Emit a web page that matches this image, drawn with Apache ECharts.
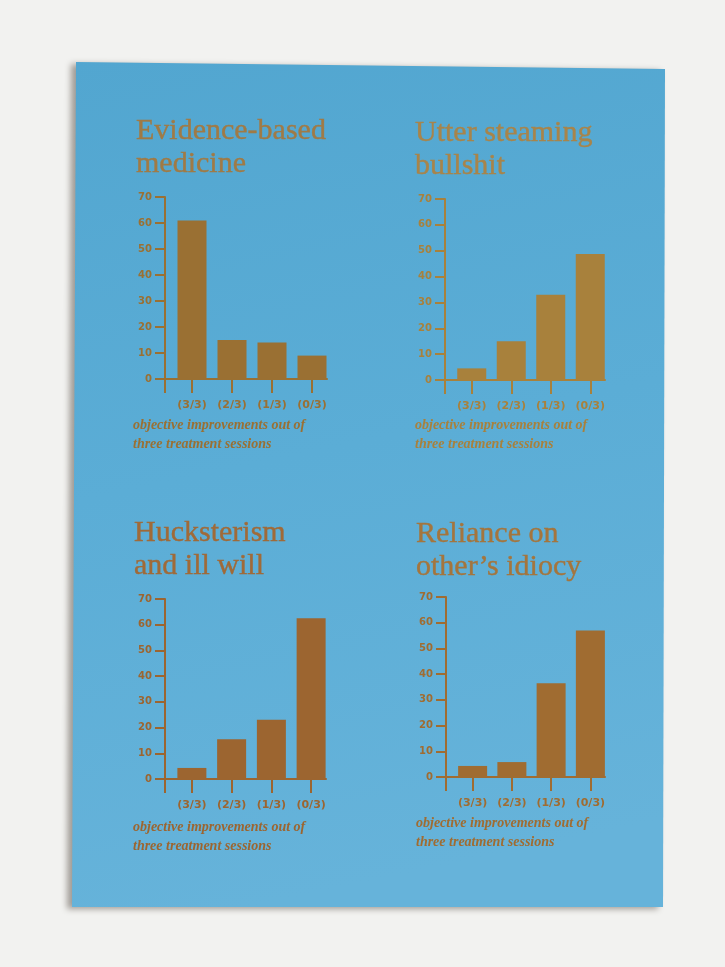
<!DOCTYPE html>
<html>
<head>
<meta charset="utf-8">
<style>
  html, body { margin: 0; padding: 0; background: #f2f2f0; }
  #chart { width: 725px; height: 967px; }
</style>
<script src="https://cdn.jsdelivr.net/npm/echarts@6/dist/echarts.min.js"></script>
</head>
<body>
<div id="chart"></div>
<script>
// ---- data ----
const categories = ['(3/3)', '(2/3)', '(1/3)', '(0/3)'];
const evidenceValues = [61, 15, 14, 9];
const bullshitValues = [4.5, 15, 33, 48.7];
const huckValues = [4.3, 15.5, 23, 62.5];
const relianceValues = [4.3, 5.8, 36.5, 57];
const yMin = 0;
const yMax = 70;
const yStep = 10;
const panelTitles = [
  'Evidence-based\nmedicine',
  'Utter steaming\nbullshit',
  'Hucksterism\nand ill will',
  'Reliance on\nother\u2019s idiocy'
];
const axisCaption = 'objective improvements out of\nthree treatment sessions';
const panelValues = [evidenceValues, bullshitValues, huckValues, relianceValues];

// ---- layout / style (separate from data) ----
const layouts = [
  { axisX: 165, axisRight: 327, top: 197, base: 379, barLeft: 172, barW: 160, titleX: 136, titleY: 115, subX: 133, subY: 416, color: '#9a7033', titleColor: '#a07a45' },
  { axisX: 445, axisRight: 605, top: 199, base: 380, barLeft: 452, barW: 158, titleX: 415, titleY: 117, subX: 415, subY: 416, color: '#a8813c', titleColor: '#a8844a' },
  { axisX: 165, axisRight: 326, top: 599, base: 779, barLeft: 172, barW: 159, titleX: 134, titleY: 517, subX: 133, subY: 818, color: '#9c6530', titleColor: '#a06a38' },
  { axisX: 446, axisRight: 605, top: 597, base: 777, barLeft: 453, barW: 157, titleX: 416, titleY: 518, subX: 416, subY: 814, color: '#a06c31', titleColor: '#a4753d' }
];

const chart = echarts.init(document.getElementById('chart'), null, { renderer: 'canvas' });

const grid = [], xAxis = [], yAxis = [], series = [], title = [];
layouts.forEach((L, i) => {
  const h = L.base - L.top;
  grid.push({ left: L.axisX, top: L.top, width: L.axisRight - L.axisX, height: h });
  grid.push({ left: L.barLeft, top: L.top, width: L.barW, height: h });
  const ga = 2 * i, gb = 2 * i + 1;
  xAxis.push({
    gridIndex: ga, type: 'value', min: 0, max: 1,
    axisLine: { show: true, lineStyle: { color: L.color, width: 2 } },
    axisTick: { show: true, customValues: [0], length: 14, lineStyle: { color: L.color, width: 2 } },
    axisLabel: { show: false }, splitLine: { show: false }
  });
  yAxis.push({
    gridIndex: ga, type: 'value', min: yMin, max: yMax, interval: yStep,
    axisLine: { show: true, lineStyle: { color: L.color, width: 2 } },
    axisTick: { show: true, length: 10, lineStyle: { color: L.color, width: 2 } },
    axisLabel: { color: L.color, fontFamily: 'DejaVu Sans', fontWeight: 'bold', fontSize: 10, margin: 13 },
    splitLine: { show: false }
  });
  xAxis.push({
    gridIndex: gb, type: 'category', data: categories,
    axisLine: { show: false },
    axisTick: { show: true, alignWithLabel: true, length: 14, lineStyle: { color: L.color, width: 2 } },
    axisLabel: { color: L.color, fontFamily: 'DejaVu Sans', fontWeight: 'bold', fontSize: 11, margin: 21 },
    splitLine: { show: false }
  });
  yAxis.push({ gridIndex: gb, type: 'value', min: yMin, max: yMax, show: false });
  series.push({
    type: 'bar', xAxisIndex: gb, yAxisIndex: gb, data: panelValues[i],
    barWidth: 29, itemStyle: { color: L.color }, animation: false
  });
  title.push({
    text: panelTitles[i], left: L.titleX, top: L.titleY, padding: 0,
    textStyle: { fontFamily: 'Liberation Serif', fontSize: 30, fontWeight: 'normal', color: L.titleColor, lineHeight: 33,
      textBorderColor: L.titleColor, textBorderWidth: 0.4 }
  });
  title.push({
    text: axisCaption, left: L.subX, top: L.subY, padding: 0,
    textStyle: { fontFamily: 'Liberation Serif', fontStyle: 'italic', fontWeight: 'bold', fontSize: 14, lineHeight: 19, color: L.color }
  });
});

chart.setOption({
  backgroundColor: '#f2f2f0',
  animation: false,
  title: title,
  grid: grid,
  xAxis: xAxis,
  yAxis: yAxis,
  series: series,
  graphic: [
    {
      type: 'polygon', z: -10,
      shape: { points: [[76, 62], [665, 69], [663, 907], [72, 907]] },
      style: {
        fill: new echarts.graphic.LinearGradient(0, 0, 0.3, 1, [
          { offset: 0, color: '#52a6d0' },
          { offset: 0.5, color: '#5badd6' },
          { offset: 1, color: '#66b3da' }
        ]),
        shadowColor: 'rgba(60,50,40,0.45)', shadowBlur: 6, shadowOffsetX: -5, shadowOffsetY: 2
      }
    }
  ]
});
</script>
</body>
</html>
